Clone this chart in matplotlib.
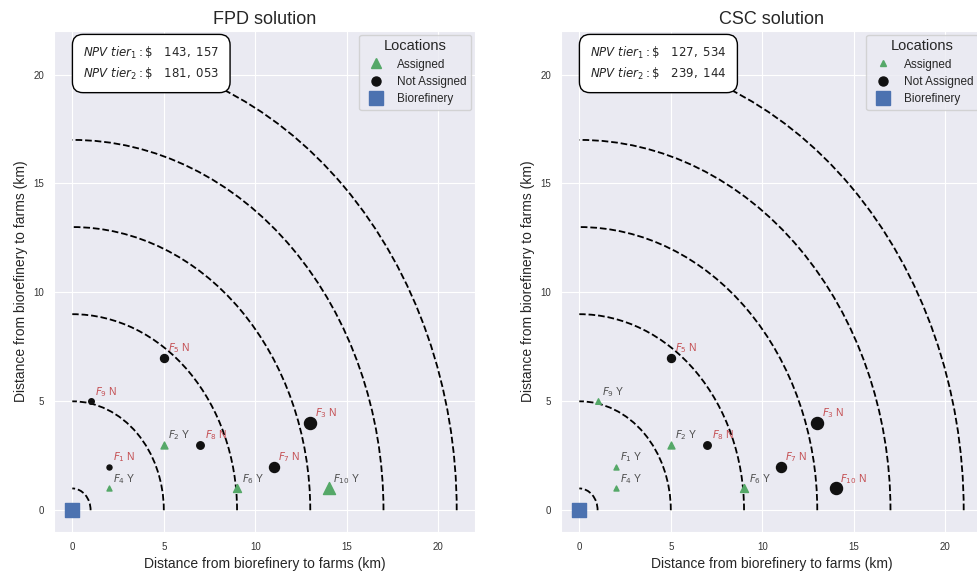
import matplotlib
matplotlib.use('Agg')
import matplotlib.pyplot as plt
from matplotlib.patches import Arc
from matplotlib.lines import Line2D
import seaborn as sns

sns.set_style('darkgrid')
plt.rcParams['font.family'] = ['Liberation Sans', 'DejaVu Sans']

# farm locations (km from the biorefinery)
farm_names = ['F1', 'F2', 'F3', 'F4', 'F5', 'F6', 'F7', 'F8', 'F9', 'F10']
farm_x = [2, 5, 13, 2, 5, 9, 11, 7, 1, 14]
farm_y = [2, 3, 4, 1, 7, 1, 2, 3, 5, 1]
farm_size = [13, 25, 75, 13, 33, 33, 52, 29, 16, 75]

# Y = assigned, N = not assigned
fpd_assigned = ['N', 'Y', 'N', 'Y', 'N', 'Y', 'N', 'N', 'N', 'Y']
csc_assigned = ['Y', 'Y', 'N', 'Y', 'N', 'Y', 'N', 'N', 'Y', 'N']

fpd_npv = ['143,157', '181,053']
csc_npv = ['127,534', '239,144']

radii = [1, 5, 9, 13, 17, 21]
biorefinery = (0, 0)

GREEN = '#55a868'
RED = '#c44e52'
BLUE = '#4c72b0'


def draw_panel(ax, title, assigned, npv, tri_ms):
    # distance rings around the biorefinery
    for r in radii:
        ax.add_patch(Arc(biorefinery, 2 * r, 2 * r, theta1=0, theta2=90,
                         linestyle='--', color='black', lw=1.3, zorder=2))

    for name, x, y, s, a in zip(farm_names, farm_x, farm_y, farm_size, assigned):
        if a == 'Y':
            ax.scatter(x, y, s=s, marker='^', color=GREEN, zorder=3)
            col = '0.3'
        else:
            ax.scatter(x, y, s=s, marker='o', color='#111111', zorder=3)
            col = RED
        ax.text(x + 0.25, y + 0.12, '$F_{%s}$ %s' % (name[1:], a),
                color=col, fontsize=7.5, va='bottom', ha='left', zorder=4)

    ax.scatter(*biorefinery, s=90, marker='s', color=BLUE, zorder=3)

    ax.text(0.069, 0.972,
            r'$NPV\ tier_1: \$\ \ \ %s$' % npv[0].replace(',', ',\\ ') + '\n' +
            r'$NPV\ tier_2: \$\ \ \ %s$' % npv[1].replace(',', ',\\ '),
            transform=ax.transAxes, fontsize=8.5, va='top', ha='left',
            linespacing=1.4, zorder=5,
            bbox=dict(boxstyle='round,pad=0.9', fc='white', ec='black', lw=1))

    handles = [
        Line2D([], [], marker='^', color=GREEN, ls='', markersize=tri_ms),
        Line2D([], [], marker='o', color='#111111', ls='', markersize=6.5),
        Line2D([], [], marker='s', color=BLUE, ls='', markersize=10),
    ]
    leg = ax.legend(handles, ['Assigned', 'Not Assigned', 'Biorefinery'],
                    title='Locations', loc='upper right', fontsize=8.5,
                    title_fontsize=10.5, borderaxespad=0.3, handletextpad=0.8,
                    labelspacing=0.45)
    leg.set_zorder(6)

    ax.set_xlim(-1, 22)
    ax.set_ylim(-1, 22)
    ax.set_xticks([0, 5, 10, 15, 20])
    ax.set_yticks([0, 5, 10, 15, 20])
    ax.tick_params(labelsize=7, colors='0.2')
    ax.set_title(title, fontsize=13, color='0.15', pad=5)
    ax.set_xlabel('Distance from biorefinery to farms (km)', fontsize=10, color='0.15')
    ax.set_ylabel('Distance from biorefinery to farms (km)', fontsize=10, color='0.15')


fig = plt.figure(figsize=(9.78, 5.72), dpi=100)
ax1 = fig.add_axes([0.0552, 0.0699, 0.4305, 0.8759])
ax2 = fig.add_axes([0.5736, 0.0699, 0.4305, 0.8759])

draw_panel(ax1, 'FPD solution', fpd_assigned, fpd_npv, 7)
draw_panel(ax2, 'CSC solution', csc_assigned, csc_npv, 4.5)

fig.savefig('out.png', dpi=100)
